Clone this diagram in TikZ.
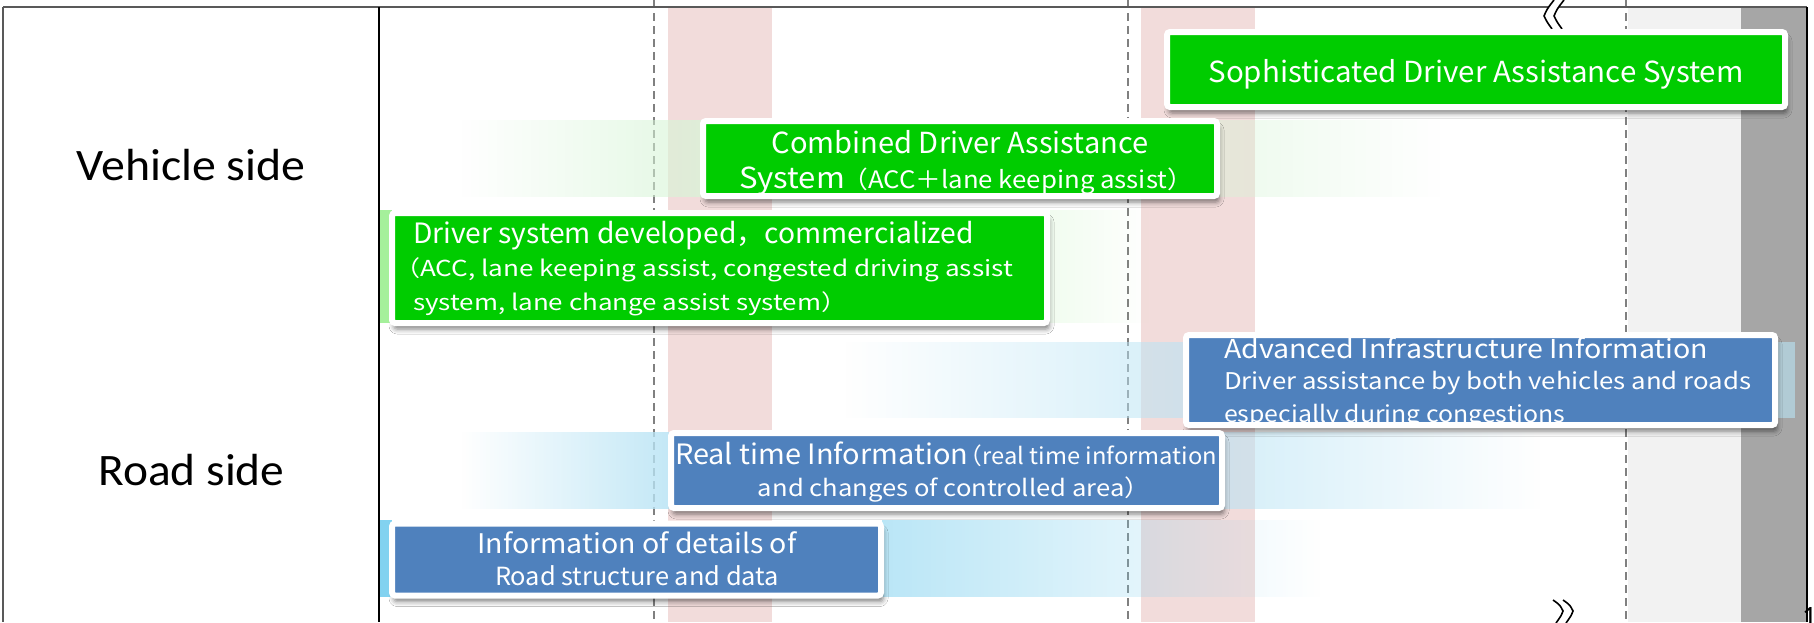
\documentclass[tikz,border=0pt]{standalone}
\usepackage{fontspec}
\usepackage{graphicx}
\usetikzlibrary{fadings,shadows.blur}
\newfontfamily\boxfont{Noto Sans CJK JP}
\newfontfamily\labelfont{Carlito}

\definecolor{boxgreen}{RGB}{0,204,0}
\definecolor{boxblue}{RGB}{79,129,189}
\definecolor{pinkband}{RGB}{242,220,219}
\definecolor{lgband}{RGB}{242,242,242}
\definecolor{dgband}{RGB}{166,166,166}
\definecolor{greenband}{RGB}{215,245,215}
\definecolor{greenstrip}{RGB}{165,240,155}
\definecolor{blueband}{RGB}{185,228,245}
\definecolor{bluestrip}{RGB}{130,210,240}
\definecolor{frameline}{RGB}{89,89,89}
\definecolor{dashline}{RGB}{128,128,128}

\tikzfading[name=fadein, left color=transparent!100, right color=transparent!0]
\tikzfading[name=fadeout, left color=transparent!0, right color=transparent!100]

% stretch a line of text to a given width (in pt), height unchanged
\newcommand\fitto[2]{\resizebox{#1pt}{\height}{#2}}
\newcommand\fs[1]{\fontsize{#1}{#1}\selectfont}

\tikzset{
  stage/.style={draw=white, line width=6pt, rounded corners=3pt, inner sep=0pt, outer sep=0pt,
    blur shadow={shadow xshift=2pt, shadow yshift=-6pt, shadow blur radius=5pt, shadow opacity=50}},
  greenstage/.style={stage, fill=boxgreen},
  bluestage/.style={stage, fill=boxblue},
  txt/.style={inner sep=0pt, outer sep=0pt, text=white, font=\boxfont},
  side/.style={inner sep=0pt, outer sep=0pt, font=\labelfont\fs{45}},
  phase/.style={draw=dashline, line width=1.3pt, dash pattern=on 8pt off 5pt},
  breakmark/.style={draw=black, line width=1.6pt},
}

\begin{document}
\begin{tikzpicture}[x=1pt, y=-1pt]
\useasboundingbox (0,0) rectangle (1814,622);
\fill[white] (0,0) rectangle (1814,622);

% period bands
\fill[pinkband] (668,7) rectangle (772,622);
\fill[pinkband] (1141,7) rectangle (1255,622);
\fill[lgband] (1628,7) rectangle (1741,622);
\fill[dgband] (1741,7) rectangle (1807,622);

% phase boundaries
\draw[phase] (654,0) -- (654,622);
\draw[phase] (1128,0) -- (1128,622);
\draw[phase] (1626,0) -- (1626,622);

% vehicle-side development bands
\fill[greenstrip] (380,210) rectangle (392,323);
\fill[greenstrip, fill opacity=0.15, path fading=fadeout] (1050,210) rectangle (1150,323);
\fill[greenband, fill opacity=0.7, path fading=fadein] (462,120) rectangle (702,197);
\fill[greenband, fill opacity=0.7] (702,120) rectangle (1218,197);
\fill[greenband, fill opacity=0.45, path fading=fadeout] (1218,120) rectangle (1440,197);

% road-side development bands
\fill[blueband, fill opacity=0.6, path fading=fadein] (845,342) rectangle (1185,418);
\fill[blueband, fill opacity=0.6] (1776,342) rectangle (1795,418);
\fill[blueband, fill opacity=0.85, path fading=fadein] (462,432) rectangle (670,509);
\fill[blueband, fill opacity=0.6, path fading=fadeout] (1222,432) rectangle (1540,509);
\fill[bluestrip] (380,520) rectangle (392,597);
\fill[bluestrip, fill opacity=0.55, path fading=fadeout] (882,520) rectangle (1320,597);

% frame
\draw[frameline, line width=1.5pt] (3,7) -- (1807,7);
\draw[frameline, line width=1.5pt] (3,7) -- (3,622);
\draw[black, line width=1.5pt] (379,7) -- (379,622);
\draw[black, line width=1.5pt] (1807,7) -- (1807,622);

% axis break marks
\fill[white] (1554,0) .. controls (1547,9) .. (1544,16) .. controls (1547,22) .. (1552,29)
  -- (1562,29) .. controls (1557,22) .. (1554,16) .. controls (1557,9) .. (1564,0) -- cycle;
\draw[breakmark] (1554,0) .. controls (1547,9) .. (1544,16) .. controls (1547,22) .. (1552,29);
\draw[breakmark] (1564,0) .. controls (1557,9) .. (1554,16) .. controls (1557,22) .. (1562,29);
\draw[breakmark] (1553,600) .. controls (1560,605) .. (1563,611) .. controls (1561,616) .. (1556,623);
\draw[breakmark] (1563,600) .. controls (1570,605) .. (1573,611) .. controls (1571,616) .. (1566,623);

% row labels
\node[side, anchor=base] (vehicle) at (191,180) {\fitto{229}{Vehicle side}};
\node[side, anchor=base] (road) at (191.5,485) {\fitto{186}{Road side}};

% vehicle-side stages
\node[greenstage, minimum width=618pt, minimum height=75pt] (soph) at (1476,69.5) {};
\node[txt, anchor=base] (soph-l1) at (1476,82) {\fs{29}\fitto{535}{Sophisticated Driver Assistance System}};

\node[greenstage, minimum width=514pt, minimum height=75pt] (comb) at (960,158.5) {};
\node[txt, anchor=base] (comb-l1) at (960,153) {\fs{29}\fitto{377}{Combined Driver Assistance}};
\node[txt, anchor=base] (comb-l2) at (966,188) {\fitto{454}{\fs{29}System\fs{24}\kern-0.1em（ACC＋lane keeping assist）}};

\node[greenstage, minimum width=655pt, minimum height=110pt] (drv) at (719.5,268) {};
\node[txt, anchor=base west] (drv-l1) at (413,243) {\fs{28}\fitto{561}{Driver system developed，commercialized}};
\node[txt, anchor=base west] (drv-l2) at (394,276) {\fs{22}\fitto{619}{（ACC, lane keeping assist, congested driving assist}};
\node[txt, anchor=base west] (drv-l3) at (413,310) {\fs{22}\fitto{434}{system, lane change assist system）}};

% road-side stages
\node[bluestage, minimum width=589pt, minimum height=90pt] (adv) at (1480.5,380) {};
\begin{scope}
  \clip ([shift={(3pt,-3pt)}]adv.north west) rectangle ([shift={(-3pt,3pt)}]adv.south east);
  \node[txt, anchor=base west] (adv-l1) at (1224,358) {\fs{26}\fitto{484}{Advanced Infrastructure Information}};
  \node[txt, anchor=base west] (adv-l2) at (1224,389) {\fs{23}\fitto{527}{Driver assistance by both vehicles and roads}};
  \node[txt, anchor=base west] (adv-l3) at (1224,422) {\fs{23}\fitto{341}{especially during congestions}};
\end{scope}

\node[bluestage, minimum width=551pt, minimum height=75pt] (rt) at (946.5,470.5) {};
\node[txt, anchor=base] (rt-l1) at (946,464) {\fitto{542}{\fs{28}Real time Information\fs{23}\kern-0.4em（real time information}};
\node[txt, anchor=base] (rt-l2) at (954,496) {\fs{23}\fitto{392}{and changes of controlled area）}};

\node[bluestage, minimum width=489pt, minimum height=72pt] (info) at (636.5,559.5) {};
\node[txt, anchor=base] (info-l1) at (637,553) {\fs{27}\fitto{319}{Information of details of}};
\node[txt, anchor=base] (info-l2) at (637,585) {\fs{25}\fitto{284}{Road structure and data}};

% slide number
\node[anchor=north west, inner sep=0pt, font=\labelfont\fs{28}] (pageno) at (1802,607) {1};
\end{tikzpicture}
\end{document}
